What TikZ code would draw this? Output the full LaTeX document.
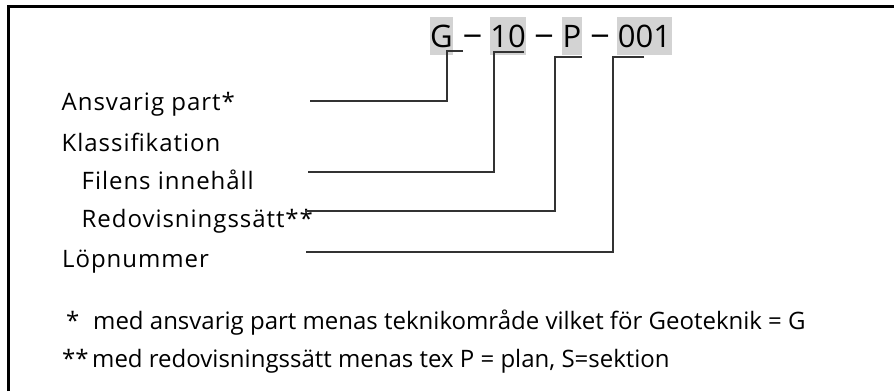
\documentclass[tikz,border=0pt]{standalone}
\usepackage{fontspec}
\setmainfont{Open Sans}
\newfontfamily\lblfont[LetterSpace=4]{Open Sans}
\definecolor{hl}{HTML}{D3D3D3}
\begin{document}
\begin{tikzpicture}[x=1pt,y=-1pt,
  frame/.style={line width=3pt,black},
  conn/.style={line width=1.3pt,black!80},
  codebox/.style={fill=hl,anchor=base,inner xsep=0pt,inner ysep=8pt,text height=22pt,text depth=0pt,font=\fontsize{31}{31}\selectfont},
  codedash/.style={anchor=base,inner sep=0pt,font=\fontsize{31}{31}\selectfont},
  lbl/.style={anchor=base west,inner sep=0pt,font=\lblfont\fontsize{24}{24}\selectfont},
  note/.style={anchor=base west,inner sep=0pt,font=\fontsize{24}{24}\selectfont}]
\useasboundingbox (0,0) rectangle (894,391);
% frame (top and left edges visible)
\coordinate (ftop) at (8.5,6.5);
\coordinate (fright) at (894,6.5);
\coordinate (fbot) at (8.5,391);
\draw[frame] (fbot) -- (ftop) -- (fright);
% code
\node[codebox,minimum width=21pt] (g) at (441.5,47) {G};
\node[codedash] (d1) at (472.5,44.5) {\scalebox{1.25}[1]{–}};
\node[codebox,minimum width=36pt] (ten) at (508,47) {10};
\node[codedash] (d2) at (544,44.5) {\scalebox{1.25}[1]{–}};
\node[codebox,minimum width=20pt] (p) at (572,47) {P};
\node[codedash] (d3) at (600,44.5) {\scalebox{1.25}[1]{–}};
\node[codebox,minimum width=55pt] (num) at (644.5,47) {001};
% labels
\node[lbl] (ansv) at (61.5,110) {Ansvarig part*};
\node[lbl] (klass) at (61.5,151) {Klassifikation};
\node[lbl] (filens) at (81.5,189) {Filens innehåll};
\node[lbl] (redov) at (81.5,227) {Redovisningssätt**};
\node[lbl] (lop) at (62,267) {Löpnummer};
% connector end points
\coordinate (gA) at (463,51);  \coordinate (gB) at (447,51);
\coordinate (gC) at (447,101); \coordinate (gD) at (310,101);
\coordinate (tA) at (524,52);  \coordinate (tB) at (494,52);
\coordinate (tC) at (494,172); \coordinate (tD) at (308,172);
\coordinate (pA) at (582,57);  \coordinate (pB) at (555,57);
\coordinate (pC) at (555,211); \coordinate (pD) at (305,211);
\coordinate (nA) at (644,57);  \coordinate (nB) at (613,57);
\coordinate (nC) at (613,252); \coordinate (nD) at (306,252);
\draw[conn] (gA) -- (gB) -- (gC) -- (gD);
\draw[conn] (tA) -- (tB) -- (tC) -- (tD);
\draw[conn] (pA) -- (pB) -- (pC) -- (pD);
\draw[conn] (nA) -- (nB) -- (nC) -- (nD);
% footnotes
\node[note] (s1) at (66,329) {*};
\node[note] (n1) at (93,329) {med ansvarig part menas teknikområde vilket för Geoteknik = G};
\node[note] (s2) at (62,367) {**};
\node[note] (n2) at (92,367) {med redovisningssätt menas tex P = plan, S=sektion};
\end{tikzpicture}
\end{document}
